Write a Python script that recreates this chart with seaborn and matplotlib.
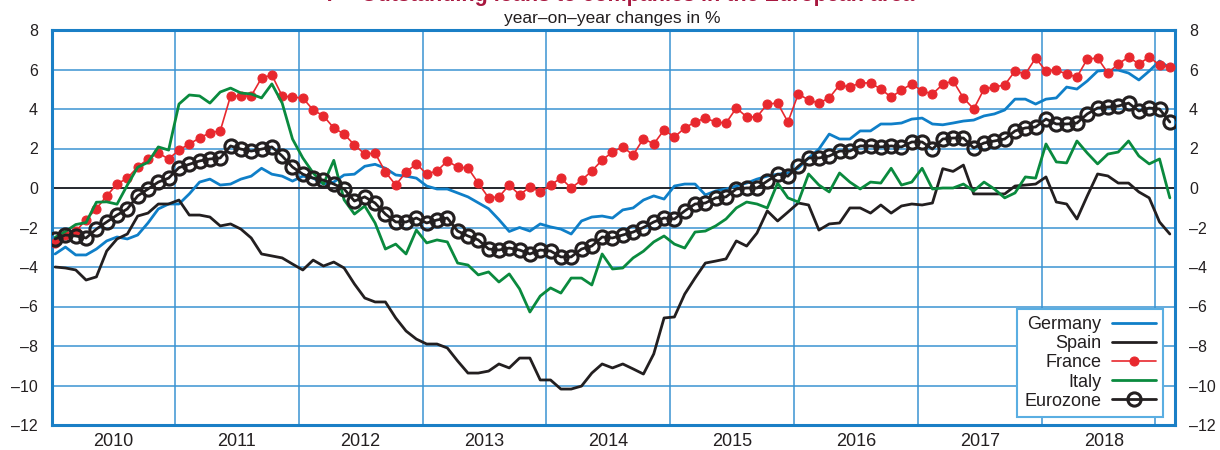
import numpy as np
import pandas as pd
import matplotlib
matplotlib.use("Agg")
import matplotlib.pyplot as plt
import seaborn as sns

# Monthly year-on-year changes in %, Jan 2010 .. Jan 2019
germany = [
    -3.34, -2.99, -3.39, -3.39, -3.09, -2.68, -2.48, -2.58, -2.38, -1.77, -1.06, -0.81,
    -0.81, -0.30, 0.30, 0.45, 0.15, 0.20, 0.45, 0.60, 1.00, 0.70, 0.60, 0.35,
    0.60, 0.50, 0.20, 0.30, 0.66, 0.70, 1.10, 1.20, 1.00, 0.66, 0.60, 0.50,
    0.10, -0.05, -0.05, -0.25, -0.45, -0.75, -1.05, -1.60, -2.20, -2.00, -2.18, -1.82,
    -1.97, -2.08, -2.33, -1.67, -1.47, -1.42, -1.52, -1.11, -1.01, -0.61, -0.40, -0.56,
    0.10, 0.20, 0.20, -0.35, -0.15, -0.05, 0.10, 0.25, 0.45, 0.60, 0.70, 0.76,
    1.00, 1.52, 1.97, 2.73, 2.48, 2.48, 2.89, 2.89, 3.24, 3.24, 3.29, 3.49,
    3.54, 3.24, 3.20, 3.29, 3.39, 3.44, 3.65, 3.75, 3.95, 4.50, 4.50, 4.25,
    4.50, 4.56, 5.11, 5.01, 5.42, 5.92, 5.97, 5.97, 5.82, 5.47, 5.92, 6.43,
    6.08,
]
spain = [
    -4.00, -4.05, -4.15, -4.66, -4.50, -3.19, -2.58, -2.33, -1.42, -1.27, -0.81, -0.81,
    -0.61, -1.37, -1.37, -1.47, -1.92, -1.82, -2.08, -2.53, -3.34, -3.44, -3.54, -3.85,
    -4.15, -3.65, -3.95, -3.75, -4.05, -4.86, -5.57, -5.77, -5.77, -6.58, -7.24, -7.65,
    -7.90, -7.90, -8.10, -8.76, -9.37, -9.37, -9.27, -8.91, -9.11, -8.61, -8.61, -9.72,
    -9.72, -10.18, -10.18, -10.03, -9.37, -8.91, -9.11, -8.91, -9.16, -9.42, -8.40, -6.58,
    -6.53, -5.37, -4.56, -3.80, -3.70, -3.59, -2.68, -2.94, -2.28, -1.16, -1.67, -1.22,
    -0.76, -0.86, -2.13, -1.82, -1.77, -1.01, -1.01, -1.27, -0.86, -1.27, -0.91, -0.81,
    -0.86, -0.76, 0.98, 0.84, 1.16, -0.30, -0.30, -0.30, -0.30, 0.10, 0.15, 0.20,
    0.56, -0.71, -0.81, -1.57, -0.40, 0.71, 0.61, 0.25, 0.25, -0.20, -0.50, -1.72,
    -2.33,
]
france = [
    -2.80, -2.40, -2.20, -1.60, -1.05, -0.40, 0.20, 0.50, 1.06, 1.47, 1.77, 1.47,
    1.92, 2.23, 2.53, 2.80, 2.89, 4.66, 4.66, 4.66, 5.57, 5.72, 4.66, 4.60,
    4.56, 3.95, 3.65, 3.04, 2.73, 2.18, 1.72, 1.77, 0.81, 0.15, 0.81, 1.22,
    0.71, 0.86, 1.37, 1.06, 1.01, 0.25, -0.50, -0.45, 0.15, -0.35, 0.05, -0.20,
    0.15, 0.50, 0.00, 0.40, 0.86, 1.42, 1.82, 2.08, 1.67, 2.50, 2.23, 2.94,
    2.58, 3.04, 3.34, 3.54, 3.34, 3.29, 4.05, 3.60, 3.60, 4.25, 4.30, 3.34,
    4.76, 4.46, 4.30, 4.56, 5.22, 5.11, 5.32, 5.32, 5.01, 4.60, 4.96, 5.27,
    4.91, 4.76, 5.25, 5.42, 4.56, 4.00, 5.01, 5.11, 5.22, 5.92, 5.77, 6.58,
    5.92, 5.97, 5.77, 5.62, 6.53, 6.58, 5.82, 6.28, 6.63, 6.28, 6.63, 6.23,
    6.13,
]
italy = [
    -2.50, -2.20, -1.85, -1.75, -0.72, -0.70, -0.82, 0.15, 1.05, 1.30, 2.08, 1.92,
    4.25, 4.71, 4.66, 4.30, 4.86, 5.06, 4.81, 4.76, 4.56, 5.27, 4.30, 2.48,
    1.52, 0.76, 0.20, 1.40, -0.60, -1.32, -0.91, -1.77, -3.09, -2.84, -3.34, -2.13,
    -2.78, -2.63, -2.73, -3.80, -3.90, -4.40, -4.25, -4.76, -4.35, -5.11, -6.28, -5.47,
    -5.06, -5.32, -4.56, -4.56, -4.91, -3.34, -4.10, -4.05, -3.54, -3.20, -2.73, -2.43,
    -2.84, -3.04, -2.23, -2.18, -1.92, -1.57, -1.01, -0.71, -0.81, -1.01, 0.25, -0.50,
    -0.71, 0.71, 0.15, -0.20, 0.76, 0.30, -0.05, 0.30, 0.25, 1.00, 0.15, 0.30,
    1.00, -0.05, 0.00, 0.00, 0.20, -0.15, 0.30, -0.05, -0.50, -0.25, 0.56, 0.50,
    2.23, 1.32, 1.27, 2.38, 1.77, 1.22, 1.72, 1.82, 2.38, 1.62, 1.22, 1.47,
    -0.50,
]
eurozone = [
    -2.58, -2.38, -2.43, -2.53, -2.08, -1.72, -1.37, -1.06, -0.40, -0.05, 0.30, 0.50,
    1.03, 1.20, 1.37, 1.47, 1.52, 2.13, 1.97, 1.87, 1.97, 2.08, 1.62, 1.06,
    0.70, 0.50, 0.40, 0.20, -0.05, -0.66, -0.45, -0.76, -1.32, -1.72, -1.72, -1.52,
    -1.77, -1.62, -1.52, -2.18, -2.43, -2.63, -3.09, -3.14, -3.04, -3.14, -3.34, -3.14,
    -3.19, -3.49, -3.49, -3.09, -2.94, -2.48, -2.53, -2.38, -2.23, -2.00, -1.72, -1.52,
    -1.57, -1.16, -0.81, -0.76, -0.50, -0.45, -0.05, 0.00, 0.00, 0.35, 0.70, 0.60,
    1.10, 1.52, 1.52, 1.62, 1.87, 1.87, 2.13, 2.13, 2.08, 2.13, 2.08, 2.33,
    2.33, 1.97, 2.48, 2.53, 2.53, 2.03, 2.28, 2.38, 2.48, 2.89, 3.04, 3.09,
    3.49, 3.24, 3.24, 3.29, 3.75, 4.05, 4.10, 4.15, 4.30, 3.90, 4.05, 4.00,
    3.34,
]
years = ["2010", "2011", "2012", "2013", "2014", "2015", "2016", "2017", "2018"]
yticks = [-12, -10, -8, -6, -4, -2, 0, 2, 4, 6, 8]

months = np.arange(len(france))
df = pd.DataFrame({"month": months, "Germany": germany, "Spain": spain,
                   "France": france, "Italy": italy, "Eurozone": eurozone})

sns.set_theme(style="white")
plt.rcParams["font.family"] = ["Liberation Sans", "DejaVu Sans"]

blue = "#1a7fc6"
grid_blue = "#3b93d2"
ink = "#231f20"

fig = plt.figure(figsize=(12.2, 4.5), dpi=100)
ax = fig.add_axes([52 / 1220, 25 / 450, 1123 / 1220, 395 / 450])

# grid: horizontal every 2, vertical at year boundaries
for v in yticks:
    ax.axhline(v, color=grid_blue, lw=1.1, zorder=0)
for b in list(np.arange(11.6, 96, 12)) + [106.6]:
    ax.axvline(b, color=grid_blue, lw=1.1, zorder=0)
ax.axhline(0, color=ink, lw=1.3, zorder=1)

styles = {
    "Germany": dict(color="#0f7fc8", lw=2.0),
    "Spain": dict(color=ink, lw=2.0),
    "France": dict(color="#e8282e", lw=1.2, marker="o", ms=6.5, mec="#e8282e", mfc="#e8282e"),
    "Italy": dict(color="#0a8a3e", lw=2.0),
    "Eurozone": dict(color=ink, lw=2.0, marker="o", ms=9.5, mfc="none", mec=ink, mew=2.2),
}
for name, st in styles.items():
    sns.lineplot(data=df, x="month", y=name, ax=ax, label=name, zorder=3, **st)

ax.set_xlim(-0.3, 108.5)
ax.set_ylim(-12, 8)
ax.set_xlabel("")
ax.set_ylabel("")

centers = [5.6 + 12 * k for k in range(len(years))]
ax.set_xticks(centers)
ax.set_xticklabels(years, fontsize=13, color=ink)
ax.set_yticks(yticks)
ax.set_yticklabels([str(v).replace("-", "\u2013") for v in yticks], fontsize=11.5, color=ink)
ax.tick_params(axis="both", length=0)
ax.tick_params(axis="x", pad=6)
ax.tick_params(axis="y", pad=10, left=True, right=True, labelleft=True, labelright=True)

for sp in ax.spines.values():
    sp.set_color(blue)
    sp.set_linewidth(2.2)
    sp.set_visible(True)

leg = ax.legend(loc="lower right", bbox_to_anchor=(1163 / 1220, 33 / 450),
                bbox_transform=fig.transFigure, markerfirst=False, fontsize=13,
                handlelength=2.4, labelspacing=0.12, handletextpad=0.6,
                borderpad=0.4, fancybox=False, framealpha=1, borderaxespad=0)
leg.get_frame().set_edgecolor("#5aaee2")
leg.get_frame().set_linewidth(1.5)
for t in leg.get_texts():
    t.set_color(ink)

# title sits partly above the top edge, as in the source
fig.text(0.508, 1 - 1.5 / 450, "7 \u2013 Outstanding loans to companies in the European area",
         ha="center", va="baseline", fontsize=15.5, fontweight="bold", color="#a8173f")
fig.text(0.502, 1 - 23 / 450, "year\u2013on\u2013year changes in %",
         ha="center", va="baseline", fontsize=12.5, color=ink)

fig.savefig("out.png", dpi=100)
